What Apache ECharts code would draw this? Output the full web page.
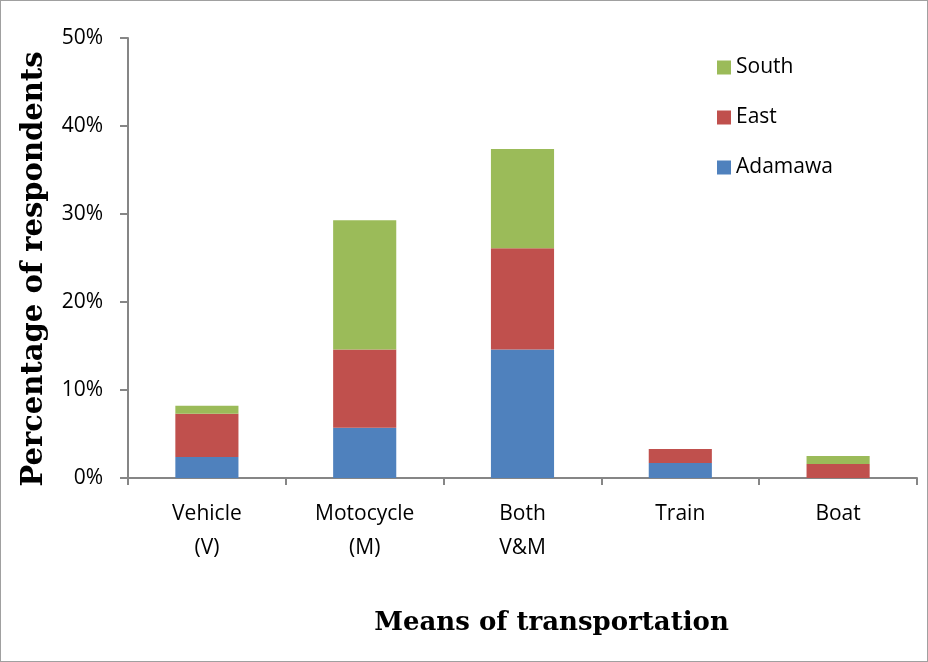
<!DOCTYPE html>
<html>
<head>
<meta charset="utf-8">
<script src="https://cdn.jsdelivr.net/npm/echarts@6/dist/echarts.min.js"></script>
<style>
  html, body { margin: 0; padding: 0; background: #fff; }
  #main { width: 928px; height: 662px; box-sizing: border-box; border: 1px solid #a0a0a0; }
</style>
</head>
<body>
<div id="main"></div>
<script>
// categories and stacked values (percent)
const categories = ['Vehicle\n(V)', 'Motocycle\n(M)', 'Both\nV&M', 'Train', 'Boat'];
const adamawa = [2.4, 5.7, 14.6, 1.7, 0];
const east = [4.9, 8.9, 11.5, 1.6, 1.6];
const south = [0.9, 14.7, 11.3, 0, 0.9];

const myChart = echarts.init(document.getElementById('main'));

const labelFont = "'Open Sans', 'Noto Sans', sans-serif";
const titleFont = "'DejaVu Serif', 'Liberation Serif', serif";

function barSeries(name, values, color) {
  return {
    name: name,
    type: 'bar',
    stack: 'total',
    barWidth: '40%',
    data: values,
    itemStyle: { color: color },
    emphasis: { disabled: true }
  };
}

const options = {
  animation: false,
  textStyle: { fontFamily: labelFont },
  grid: { left: 127, right: 10, top: 37, bottom: 183 },
  legend: {
    orient: 'vertical',
    left: 711,
    top: 51,
    itemWidth: 14,
    itemHeight: 14,
    itemGap: 29,
    icon: 'rect',
    textStyle: { fontSize: 21, color: '#000', fontFamily: labelFont },
    data: ['South', 'East', 'Adamawa']
  },
  xAxis: {
    type: 'category',
    data: categories,
    name: 'Means of transportation',
    nameLocation: 'middle',
    nameGap: 132,
    nameTextStyle: { fontSize: 26, fontWeight: 'bold', color: '#000', fontFamily: titleFont, padding: [0, 0, 0, 58] },
    axisLine: { lineStyle: { color: '#868686', width: 2 } },
    axisTick: { show: true, length: 7, lineStyle: { color: '#868686', width: 2 } },
    axisLabel: { fontSize: 21, color: '#000', margin: 19, lineHeight: 34 }
  },
  yAxis: {
    type: 'value',
    min: 0,
    max: 50,
    interval: 10,
    name: 'Percentage of respondents',
    nameLocation: 'middle',
    nameGap: 79,
    nameTextStyle: { fontSize: 29, fontWeight: 'bold', color: '#000', fontFamily: titleFont, padding: [0, 22, 0, 0] },
    axisLine: { show: true, lineStyle: { color: '#868686', width: 2 } },
    axisTick: { show: true, length: 8, lineStyle: { color: '#868686', width: 2 } },
    splitLine: { show: false },
    axisLabel: { fontSize: 21, color: '#000', margin: 25, formatter: v => v + '%' }
  },
  series: [
    barSeries('Adamawa', adamawa, '#4F81BD'),
    barSeries('East', east, '#C0504D'),
    barSeries('South', south, '#9BBB59')
  ]
};

myChart.setOption(options);
</script>
</body>
</html>
